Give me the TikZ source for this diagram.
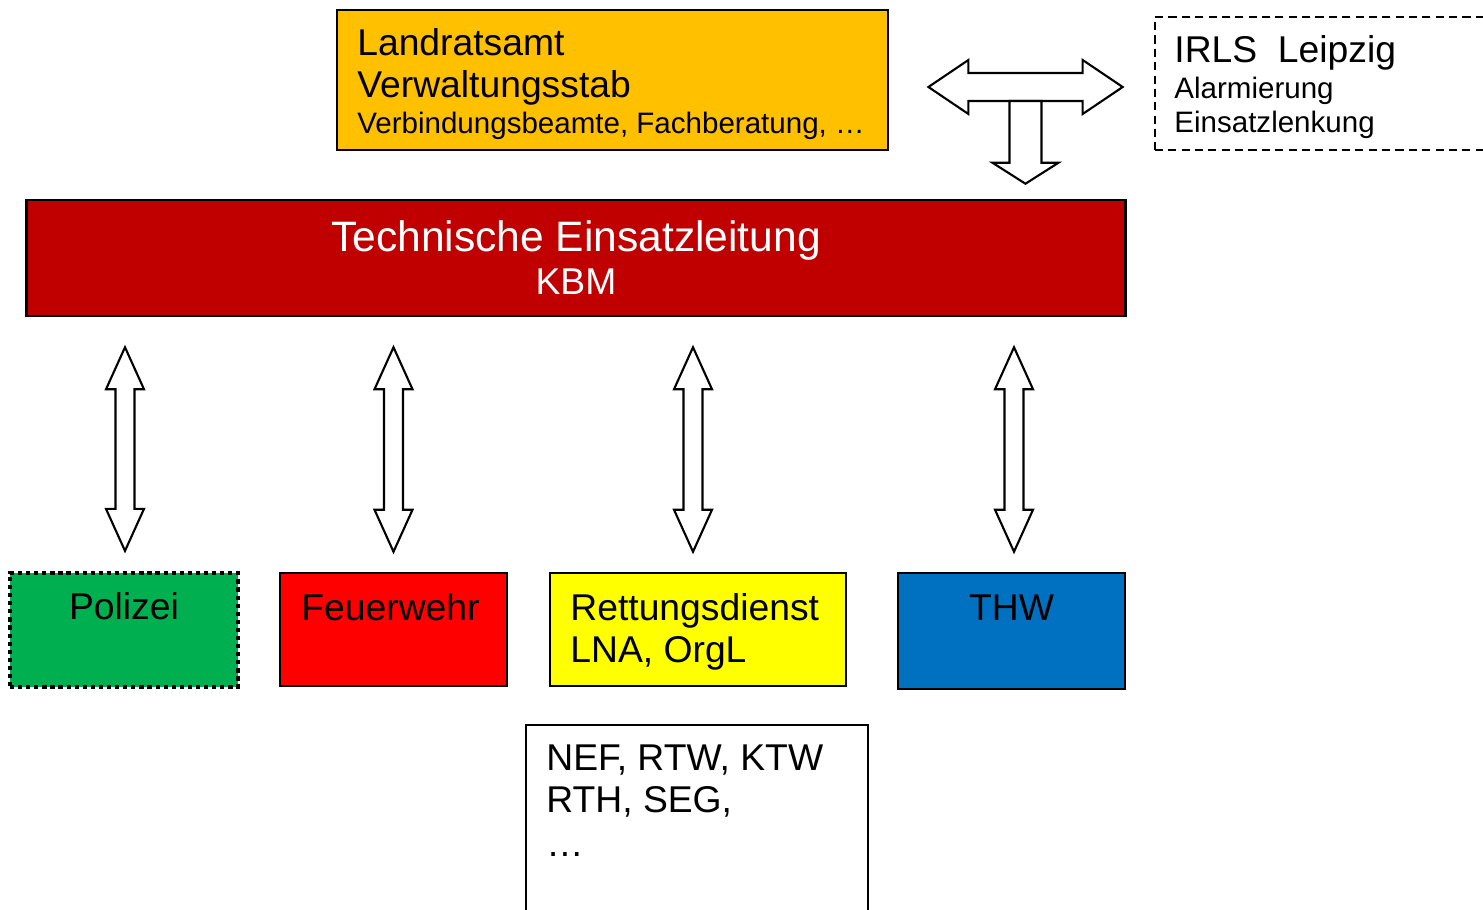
\documentclass[tikz,border=0pt]{standalone}
\usepackage{fontspec}
\setmainfont{Liberation Sans}
\usetikzlibrary{positioning,calc}

\definecolor{lraorange}{HTML}{FFC000}
\definecolor{teldarkred}{HTML}{C00000}
\definecolor{polgreen}{HTML}{00B050}
\definecolor{fwred}{HTML}{FF0000}
\definecolor{rdyellow}{HTML}{FFFF00}
\definecolor{thwblue}{HTML}{0070C0}

\tikzset{
  unit/.style={draw=black, line width=0.7pt, inner sep=0pt},
  bigtext/.style={font=\fontsize{10.6}{12.7}\selectfont, inner sep=0pt},
  smalltext/.style={font=\fontsize{8.4}{10}\selectfont, inner sep=0pt},
  teltext/.style={font=\fontsize{12.1}{14.5}\selectfont, inner sep=0pt, text=white},
  blockarrow/.style={draw=black, fill=white, line width=0.6pt, line join=miter},
}

% vertical double block arrow: top tip, bottom tip
\newcommand{\vblockarrow}[2]{%
  \draw[blockarrow] let \p1=#1, \p2=#2 in
    (\p1) -- (\x1+0.19cm,\y1-0.42cm) -- (\x1+0.095cm,\y1-0.42cm)
    -- (\x1+0.095cm,\y2+0.42cm) -- (\x1+0.19cm,\y2+0.42cm) -- (\x1,\y2)
    -- (\x1-0.19cm,\y2+0.42cm) -- (\x1-0.095cm,\y2+0.42cm)
    -- (\x1-0.095cm,\y1-0.42cm) -- (\x1-0.19cm,\y1-0.42cm) -- cycle;
}

\begin{document}
\begin{tikzpicture}[x=0.01cm, y=-0.01cm]
    \useasboundingbox (0,0) rectangle (1483,909);
    \clip (0,0) rectangle (1483,909);

    % Landratsamt
    \node[unit, fill=lraorange, minimum width=5.51cm, minimum height=1.40cm] (lra) at (612.5,80) {};
    \node[bigtext, anchor=base west] (lra1) at ($(lra.north west)+(21,47)$) {Landratsamt};
    \node[bigtext, anchor=base west] (lra2) at ($(lra1.base west)+(0,42)$) {Verwaltungsstab};
    \node[smalltext, anchor=base west] (lra3) at ($(lra2.base west)+(0,36)$) {Verbindungsbeamte, Fachberatung, …};

    % IRLS
    \node[unit, dash pattern=on 2.3pt off 1.5pt, minimum width=3.65cm, minimum height=1.33cm] (irls) at (1337.5,83.5) {};
    \node[bigtext, anchor=base west] (irls1) at ($(irls.north west)+(20,47)$) {IRLS~~Leipzig};
    \node[smalltext, anchor=base west] (irls2) at ($(irls1.base west)+(0,36)$) {Alarmierung};
    \node[smalltext, anchor=base west] (irls3) at ($(irls2.base west)+(0,34)$) {Einsatzlenkung};

    % Technische Einsatzleitung
    \node[unit, fill=teldarkred, minimum width=10.98cm, minimum height=1.16cm] (tel) at (576,258) {};
    \node[teltext, anchor=base] (tel1) at ($(tel.north)+(0,53)$) {Technische Einsatzleitung};
    \node[bigtext, text=white, anchor=base] (tel2) at ($(tel1.base)+(0,43)$) {KBM};

    % Units
    \node[unit, fill=polgreen, line width=1.2pt, dash pattern=on 1.2pt off 1.1pt,
          minimum width=2.28cm, minimum height=1.14cm] (pol) at (124,630) {};
    \node[bigtext, anchor=base] (pol1) at ($(pol.north)+(0,49)$) {Polizei};

    \node[unit, fill=fwred, minimum width=2.27cm, minimum height=1.13cm] (fw) at (393.5,629.5) {};
    \node[bigtext, anchor=base] (fw1) at ($(fw.north)+(-3,49)$) {Feuerwehr};

    \node[unit, fill=rdyellow, minimum width=2.96cm, minimum height=1.13cm] (rd) at (698,629.5) {};
    \node[bigtext, anchor=base west] (rd1) at ($(rd.north west)+(21,49)$) {Rettungsdienst};
    \node[bigtext, anchor=base west] (rd2) at ($(rd1.base west)+(0,42)$) {LNA, OrgL};

    \node[unit, fill=thwblue, minimum width=2.27cm, minimum height=1.16cm] (thw) at (1011.5,631) {};
    \node[bigtext, anchor=base] (thw1) at ($(thw.north)+(0,49)$) {THW};

    % Fahrzeuge
    \node[unit, fill=white, minimum width=3.42cm, minimum height=2.35cm] (nef) at (697,842.5) {};
    \node[bigtext, anchor=base west] (nef1) at ($(nef.north west)+(21,47)$) {NEF, RTW, KTW};
    \node[bigtext, anchor=base west] (nef2) at ($(nef1.base west)+(0,42)$) {RTH, SEG,};
    \node[bigtext, anchor=base west] (nef3) at ($(nef2.base west)+(0,44)$) {…};

    % Arrows TEL <-> units
    \vblockarrow{($(tel.south -| pol.north)+(1,30)$)}{($(pol.north)+(1,-20)$)}
    \vblockarrow{($(tel.south -| fw.north)+(0,30)$)}{($(fw.north)+(0,-20)$)}
    \vblockarrow{($(tel.south -| rd.north)+(-5,30)$)}{($(rd.north)+(-5,-20)$)}
    \vblockarrow{($(tel.south -| thw.north)+(2.5,30)$)}{($(thw.north)+(2.5,-20)$)}

    % Arrow LRA <-> IRLS, down to TEL
    \coordinate (hl) at ($(lra.east)+(39,7)$);
    \coordinate (hr) at ($(irls.west |- hl)+(-31,0)$);
    \draw[blockarrow] let \p1=(hl), \p2=(hr) in
        (\p1) -- (\x1+0.40cm,\y1+0.27cm) -- (\x1+0.40cm,\y1+0.14cm)
        -- (\x2-0.40cm,\y1+0.14cm) -- (\x2-0.40cm,\y1+0.27cm) -- (\p2)
        -- (\x2-0.40cm,\y1-0.27cm) -- (\x2-0.40cm,\y1-0.14cm)
        -- (\x1+0.40cm,\y1-0.14cm) -- (\x1+0.40cm,\y1-0.27cm) -- cycle;
    \coordinate (dt) at ($(tel.north west)+(1000,-15)$);
    \draw[blockarrow] let \p1=(hl), \p2=(dt) in
        (\x2-0.16cm,\y1-0.14cm) -- (\x2-0.16cm,\y2+0.21cm) -- (\x2-0.33cm,\y2+0.21cm)
        -- (\p2) -- (\x2+0.33cm,\y2+0.21cm) -- (\x2+0.16cm,\y2+0.21cm)
        -- (\x2+0.16cm,\y1-0.14cm) -- cycle;
\end{tikzpicture}
\end{document}
